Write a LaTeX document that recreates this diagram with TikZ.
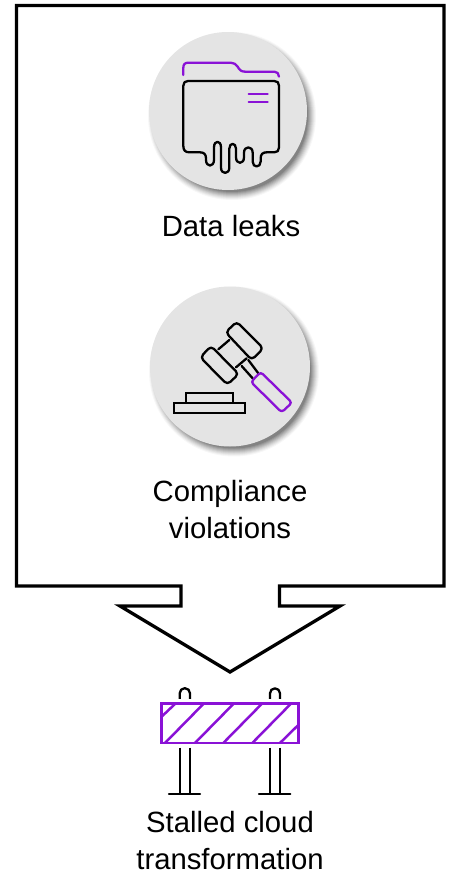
\documentclass[tikz,border=0pt]{standalone}
\usepackage{fontspec}
\setmainfont{Liberation Sans}
\definecolor{iconpurple}{HTML}{8A12D6}
\definecolor{discfill}{HTML}{E4E4E4}
\tikzset{
  frameline/.style={draw=black,line width=3.3pt,miter limit=10,line join=miter},
  iconline/.style={draw=black,line width=2.3pt,line join=round,line cap=round},
  accentline/.style={draw=iconpurple,line width=2.3pt,line join=round,line cap=round},
  caption/.style={font=\fontsize{29.3}{36.5}\selectfont,align=center,inner sep=0pt,text=black},
  zoomone/.style={shift={(140,20)},x=0.3333pt,y=-0.3333pt},
  zoomtwo/.style={shift={(140,280)},x=0.3333pt,y=-0.3333pt},
  zoomthree/.style={shift={(110,570)},x=0.3333pt,y=-0.3333pt},
}
\newcommand{\softdisc}[3]{%
  \foreach \rr/\oo in {7/0.03,6/0.04,5/0.05,4/0.06,3/0.07,2/0.08,1/0.09,0/0.10,-1/0.12}{
    \fill[black,opacity=\oo] (#1+4,#2+5) circle[radius=#3+\rr-2];
  }
  \fill[discfill] (#1,#2) circle[radius=#3];
}
\begin{document}
\begin{tikzpicture}[x=1pt,y=-1pt]
\useasboundingbox (0,0) rectangle (452,874);
\softdisc{228}{111}{79}
\softdisc{230}{366.5}{80}
% frame with arrow
\coordinate (f1) at (16.5,5.5);
\coordinate (f2) at (444,5.5);
\coordinate (f3) at (444,586);
\coordinate (f4) at (279.5,586);
\coordinate (f5) at (279.5,606);
\coordinate (f6) at (340,606);
\coordinate (f7) at (230,672);
\coordinate (f8) at (120,606);
\coordinate (f9) at (181,606);
\coordinate (f10) at (181,586);
\coordinate (f11) at (16.5,586);
\draw[frameline] (f1)--(f2)--(f3)--(f4)--(f5)--(f6)--(f7)--(f8)--(f9)--(f10)--(f11)--cycle;
% folder
\begin{scope}[zoomone]
\draw[accentline] (130,165) -- (130,143) .. controls (130,133) and (135,128) .. (145,128) -- (272,128)
  .. controls (282,128) and (288,133) .. (293,140) .. controls (298,150) and (304,155) .. (315,155) -- (403,155)
  .. controls (412,155) and (417,161) .. (417,170);
\draw[accentline] (326,221) -- (383,221);
\draw[accentline] (326,246) -- (383,246);
\draw[iconline] (130,378) -- (130,197) .. controls (130,188) and (135,183) .. (144,183) -- (403,183)
  .. controls (412,183) and (417,188) .. (417,197) -- (417,383)
  .. controls (417,392) and (412,397) .. (403,397) -- (380,397)
  .. controls (368,397) and (362,403) .. (362,415) -- (362,425)
  .. controls (362,444) and (338,444) .. (338,425) -- (338,398)
  .. controls (338,377) and (312,377) .. (312,398) -- (312,412)
  .. controls (312,434) and (288,434) .. (288,412) -- (288,386)
  .. controls (288,367) and (268,367) .. (268,386) -- (268,443)
  .. controls (268,464) and (243,464) .. (243,443) -- (243,382)
  .. controls (243,360) and (222,360) .. (222,382) -- (222,420)
  .. controls (222,442) and (198,442) .. (198,420) -- (198,415)
  .. controls (198,403) and (192,397) .. (180,397) -- (148,397)
  .. controls (136,397) and (130,391) .. (130,378) -- cycle;
\end{scope}
% gavel
\begin{scope}[zoomtwo]
\draw[iconline,line cap=butt,line join=miter] (102,370) rectangle (315,400);
\draw[iconline,line cap=butt,line join=miter] (138,370) -- (138,340) -- (280,340) -- (280,370);
\draw[iconline,rounded corners=4pt] (290,125) -- (370,205) -- (335,240) -- (257,157) -- cycle;
\draw[iconline,rounded corners=4pt] (213,198) -- (296,282) -- (262,314) -- (181,232) -- cycle;
\draw[iconline] (235,208) -- (268,180);
\draw[iconline] (320,235) -- (288,262);
\draw[iconline] (305,258) -- (338,295);
\draw[iconline] (325,240) -- (355,280);
\draw[accentline,rounded corners=3pt] (362,276) -- (456,368) -- (425,397) -- (333,306) -- cycle;
\end{scope}
% barrier
\begin{scope}[zoomthree]
\draw[iconline,line cap=butt] (209,387) -- (209,370) arc[start angle=180,end angle=0,x radius=15.5,y radius=-15.5] -- (240,387);
\draw[iconline,line cap=butt] (480,387) -- (480,370) arc[start angle=180,end angle=0,x radius=15,y radius=-15] -- (510,387);
\draw[iconline,line cap=butt] (209,533) -- (209,670);
\draw[iconline,line cap=butt] (239,533) -- (239,670);
\draw[iconline,line cap=butt] (480,533) -- (480,670);
\draw[iconline,line cap=butt] (509,533) -- (509,670);
\draw[iconline] (177,671) -- (270,671);
\draw[iconline] (447,671) -- (541,671);
\draw[accentline,line width=2.5pt,line cap=butt] (157,438) -- (195,402);
\draw[accentline,line width=2.5pt,line cap=butt] (165,519) -- (280,402);
\draw[accentline,line width=2.5pt,line cap=butt] (255,519) -- (370,402);
\draw[accentline,line width=2.5pt,line cap=butt] (340,519) -- (455,402);
\draw[accentline,line width=2.5pt,line cap=butt] (427,519) -- (542,402);
\draw[accentline,line width=2.5pt,line cap=butt] (510,519) -- (565,465);
\draw[accentline,line width=2.5pt,line cap=butt,line join=miter] (154,400) rectangle (565,519);
\end{scope}
% captions
\node[caption] (leaks) at (231,226) {Data leaks};
\node[caption] (compliance) at (230,509.5) {Compliance\\violations};
\node[caption] (stalled) at (230,840.5) {Stalled cloud\\transformation};
\end{tikzpicture}
\end{document}
